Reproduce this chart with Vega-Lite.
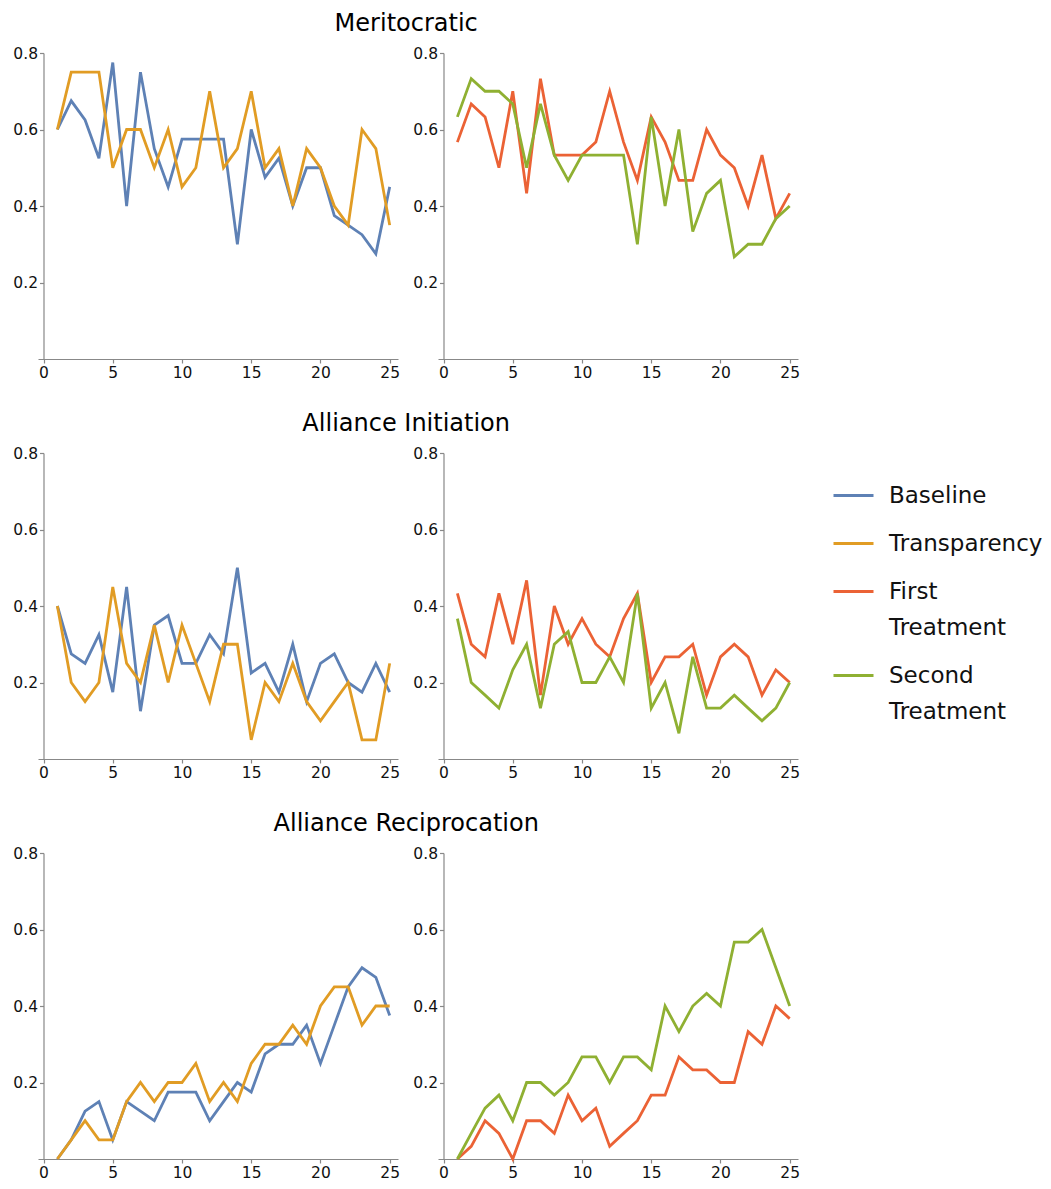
{
  "$schema": "https://vega.github.io/schema/vega-lite/v6.json",
  "padding": {"left": 12, "top": 12, "right": 5, "bottom": 5},
  "data": {"values": [
    {"cat":"M","round":1,"Baseline":0.6,"Transparency":0.6,"First Treatment":0.567,"Second Treatment":0.633},
    {"cat":"M","round":2,"Baseline":0.675,"Transparency":0.75,"First Treatment":0.667,"Second Treatment":0.733},
    {"cat":"M","round":3,"Baseline":0.625,"Transparency":0.75,"First Treatment":0.633,"Second Treatment":0.7},
    {"cat":"M","round":4,"Baseline":0.525,"Transparency":0.75,"First Treatment":0.5,"Second Treatment":0.7},
    {"cat":"M","round":5,"Baseline":0.775,"Transparency":0.5,"First Treatment":0.7,"Second Treatment":0.667},
    {"cat":"M","round":6,"Baseline":0.4,"Transparency":0.6,"First Treatment":0.433,"Second Treatment":0.5},
    {"cat":"M","round":7,"Baseline":0.75,"Transparency":0.6,"First Treatment":0.733,"Second Treatment":0.667},
    {"cat":"M","round":8,"Baseline":0.55,"Transparency":0.5,"First Treatment":0.533,"Second Treatment":0.533},
    {"cat":"M","round":9,"Baseline":0.45,"Transparency":0.6,"First Treatment":0.533,"Second Treatment":0.467},
    {"cat":"M","round":10,"Baseline":0.575,"Transparency":0.45,"First Treatment":0.533,"Second Treatment":0.533},
    {"cat":"M","round":11,"Baseline":0.575,"Transparency":0.5,"First Treatment":0.567,"Second Treatment":0.533},
    {"cat":"M","round":12,"Baseline":0.575,"Transparency":0.7,"First Treatment":0.7,"Second Treatment":0.533},
    {"cat":"M","round":13,"Baseline":0.575,"Transparency":0.5,"First Treatment":0.567,"Second Treatment":0.533},
    {"cat":"M","round":14,"Baseline":0.3,"Transparency":0.55,"First Treatment":0.467,"Second Treatment":0.3},
    {"cat":"M","round":15,"Baseline":0.6,"Transparency":0.7,"First Treatment":0.633,"Second Treatment":0.633},
    {"cat":"M","round":16,"Baseline":0.475,"Transparency":0.5,"First Treatment":0.567,"Second Treatment":0.4},
    {"cat":"M","round":17,"Baseline":0.525,"Transparency":0.55,"First Treatment":0.467,"Second Treatment":0.6},
    {"cat":"M","round":18,"Baseline":0.4,"Transparency":0.4,"First Treatment":0.467,"Second Treatment":0.333},
    {"cat":"M","round":19,"Baseline":0.5,"Transparency":0.55,"First Treatment":0.6,"Second Treatment":0.433},
    {"cat":"M","round":20,"Baseline":0.5,"Transparency":0.5,"First Treatment":0.533,"Second Treatment":0.467},
    {"cat":"M","round":21,"Baseline":0.375,"Transparency":0.4,"First Treatment":0.5,"Second Treatment":0.267},
    {"cat":"M","round":22,"Baseline":0.35,"Transparency":0.35,"First Treatment":0.4,"Second Treatment":0.3},
    {"cat":"M","round":23,"Baseline":0.325,"Transparency":0.6,"First Treatment":0.533,"Second Treatment":0.3},
    {"cat":"M","round":24,"Baseline":0.275,"Transparency":0.55,"First Treatment":0.367,"Second Treatment":0.367},
    {"cat":"M","round":25,"Baseline":0.45,"Transparency":0.35,"First Treatment":0.433,"Second Treatment":0.4},
    {"cat":"AI","round":1,"Baseline":0.4,"Transparency":0.4,"First Treatment":0.433,"Second Treatment":0.367},
    {"cat":"AI","round":2,"Baseline":0.275,"Transparency":0.2,"First Treatment":0.3,"Second Treatment":0.2},
    {"cat":"AI","round":3,"Baseline":0.25,"Transparency":0.15,"First Treatment":0.267,"Second Treatment":0.167},
    {"cat":"AI","round":4,"Baseline":0.325,"Transparency":0.2,"First Treatment":0.433,"Second Treatment":0.133},
    {"cat":"AI","round":5,"Baseline":0.175,"Transparency":0.45,"First Treatment":0.3,"Second Treatment":0.233},
    {"cat":"AI","round":6,"Baseline":0.45,"Transparency":0.25,"First Treatment":0.467,"Second Treatment":0.3},
    {"cat":"AI","round":7,"Baseline":0.125,"Transparency":0.2,"First Treatment":0.167,"Second Treatment":0.133},
    {"cat":"AI","round":8,"Baseline":0.35,"Transparency":0.35,"First Treatment":0.4,"Second Treatment":0.3},
    {"cat":"AI","round":9,"Baseline":0.375,"Transparency":0.2,"First Treatment":0.3,"Second Treatment":0.333},
    {"cat":"AI","round":10,"Baseline":0.25,"Transparency":0.35,"First Treatment":0.367,"Second Treatment":0.2},
    {"cat":"AI","round":11,"Baseline":0.25,"Transparency":0.25,"First Treatment":0.3,"Second Treatment":0.2},
    {"cat":"AI","round":12,"Baseline":0.325,"Transparency":0.15,"First Treatment":0.267,"Second Treatment":0.267},
    {"cat":"AI","round":13,"Baseline":0.275,"Transparency":0.3,"First Treatment":0.367,"Second Treatment":0.2},
    {"cat":"AI","round":14,"Baseline":0.5,"Transparency":0.3,"First Treatment":0.433,"Second Treatment":0.433},
    {"cat":"AI","round":15,"Baseline":0.225,"Transparency":0.05,"First Treatment":0.2,"Second Treatment":0.133},
    {"cat":"AI","round":16,"Baseline":0.25,"Transparency":0.2,"First Treatment":0.267,"Second Treatment":0.2},
    {"cat":"AI","round":17,"Baseline":0.175,"Transparency":0.15,"First Treatment":0.267,"Second Treatment":0.067},
    {"cat":"AI","round":18,"Baseline":0.3,"Transparency":0.25,"First Treatment":0.3,"Second Treatment":0.267},
    {"cat":"AI","round":19,"Baseline":0.15,"Transparency":0.15,"First Treatment":0.167,"Second Treatment":0.133},
    {"cat":"AI","round":20,"Baseline":0.25,"Transparency":0.1,"First Treatment":0.267,"Second Treatment":0.133},
    {"cat":"AI","round":21,"Baseline":0.275,"Transparency":0.15,"First Treatment":0.3,"Second Treatment":0.167},
    {"cat":"AI","round":22,"Baseline":0.2,"Transparency":0.2,"First Treatment":0.267,"Second Treatment":0.133},
    {"cat":"AI","round":23,"Baseline":0.175,"Transparency":0.05,"First Treatment":0.167,"Second Treatment":0.1},
    {"cat":"AI","round":24,"Baseline":0.25,"Transparency":0.05,"First Treatment":0.233,"Second Treatment":0.133},
    {"cat":"AI","round":25,"Baseline":0.175,"Transparency":0.25,"First Treatment":0.2,"Second Treatment":0.2},
    {"cat":"AR","round":1,"Baseline":0,"Transparency":0,"First Treatment":0,"Second Treatment":0},
    {"cat":"AR","round":2,"Baseline":0.05,"Transparency":0.05,"First Treatment":0.033,"Second Treatment":0.067},
    {"cat":"AR","round":3,"Baseline":0.125,"Transparency":0.1,"First Treatment":0.1,"Second Treatment":0.133},
    {"cat":"AR","round":4,"Baseline":0.15,"Transparency":0.05,"First Treatment":0.067,"Second Treatment":0.167},
    {"cat":"AR","round":5,"Baseline":0.05,"Transparency":0.05,"First Treatment":0,"Second Treatment":0.1},
    {"cat":"AR","round":6,"Baseline":0.15,"Transparency":0.15,"First Treatment":0.1,"Second Treatment":0.2},
    {"cat":"AR","round":7,"Baseline":0.125,"Transparency":0.2,"First Treatment":0.1,"Second Treatment":0.2},
    {"cat":"AR","round":8,"Baseline":0.1,"Transparency":0.15,"First Treatment":0.067,"Second Treatment":0.167},
    {"cat":"AR","round":9,"Baseline":0.175,"Transparency":0.2,"First Treatment":0.167,"Second Treatment":0.2},
    {"cat":"AR","round":10,"Baseline":0.175,"Transparency":0.2,"First Treatment":0.1,"Second Treatment":0.267},
    {"cat":"AR","round":11,"Baseline":0.175,"Transparency":0.25,"First Treatment":0.133,"Second Treatment":0.267},
    {"cat":"AR","round":12,"Baseline":0.1,"Transparency":0.15,"First Treatment":0.033,"Second Treatment":0.2},
    {"cat":"AR","round":13,"Baseline":0.15,"Transparency":0.2,"First Treatment":0.067,"Second Treatment":0.267},
    {"cat":"AR","round":14,"Baseline":0.2,"Transparency":0.15,"First Treatment":0.1,"Second Treatment":0.267},
    {"cat":"AR","round":15,"Baseline":0.175,"Transparency":0.25,"First Treatment":0.167,"Second Treatment":0.233},
    {"cat":"AR","round":16,"Baseline":0.275,"Transparency":0.3,"First Treatment":0.167,"Second Treatment":0.4},
    {"cat":"AR","round":17,"Baseline":0.3,"Transparency":0.3,"First Treatment":0.267,"Second Treatment":0.333},
    {"cat":"AR","round":18,"Baseline":0.3,"Transparency":0.35,"First Treatment":0.233,"Second Treatment":0.4},
    {"cat":"AR","round":19,"Baseline":0.35,"Transparency":0.3,"First Treatment":0.233,"Second Treatment":0.433},
    {"cat":"AR","round":20,"Baseline":0.25,"Transparency":0.4,"First Treatment":0.2,"Second Treatment":0.4},
    {"cat":"AR","round":21,"Baseline":0.35,"Transparency":0.45,"First Treatment":0.2,"Second Treatment":0.567},
    {"cat":"AR","round":22,"Baseline":0.45,"Transparency":0.45,"First Treatment":0.333,"Second Treatment":0.567},
    {"cat":"AR","round":23,"Baseline":0.5,"Transparency":0.35,"First Treatment":0.3,"Second Treatment":0.6},
    {"cat":"AR","round":24,"Baseline":0.475,"Transparency":0.4,"First Treatment":0.4,"Second Treatment":0.5},
    {"cat":"AR","round":25,"Baseline":0.375,"Transparency":0.4,"First Treatment":0.367,"Second Treatment":0.4}
  ]},
  "transform": [{"fold": ["Baseline", "Transparency", "First Treatment", "Second Treatment"], "as": ["series", "value"]}],
  "spacing": 31,
  "vconcat": [
    {"title": "Meritocratic", "spacing": 12, "hconcat": [
      {"transform": [{"filter": "datum.cat === 'M' && (datum.series === 'Baseline' || datum.series === 'Transparency')"}],
       "width": 360, "height": 306, "mark": {"type": "line", "strokeWidth": 2.8},
       "encoding": {
         "x": {"field": "round", "type": "quantitative", "scale": {"domain": [-0.4, 25.6], "nice": false}, "axis": {"values": [0,5,10,15,20,25], "labelFlush": false}},
         "y": {"field": "value", "type": "quantitative", "scale": {"domain": [0, 0.8], "nice": false}, "axis": {"values": [0.2,0.4,0.6,0.8], "offset": -5.5}},
         "color": {"field": "series", "type": "nominal", "scale": {"domain": ["Baseline","Transparency","First Treatment","Second Treatment"], "range": ["#5E81B5","#E19C24","#EB6235","#8FB032"]},
                   "legend": {"orient": "none", "legendX": 794, "legendY": 421, "title": null, "labelExpr": "datum.label == 'First Treatment' ? ['First', 'Treatment'] : datum.label == 'Second Treatment' ? ['Second', 'Treatment'] : datum.label"}}
       }},
      {"transform": [{"filter": "datum.cat === 'M' && (datum.series === 'First Treatment' || datum.series === 'Second Treatment')"}],
       "width": 360, "height": 306, "mark": {"type": "line", "strokeWidth": 2.8},
       "encoding": {
         "x": {"field": "round", "type": "quantitative", "scale": {"domain": [-0.4, 25.6], "nice": false}, "axis": {"values": [0,5,10,15,20,25], "labelFlush": false}},
         "y": {"field": "value", "type": "quantitative", "scale": {"domain": [0, 0.8], "nice": false}, "axis": {"values": [0.2,0.4,0.6,0.8], "offset": -5.5}},
         "color": {"field": "series", "type": "nominal"}
       }}
    ]},
    {"title": "Alliance Initiation", "spacing": 12, "hconcat": [
      {"transform": [{"filter": "datum.cat === 'AI' && (datum.series === 'Baseline' || datum.series === 'Transparency')"}],
       "width": 360, "height": 306, "mark": {"type": "line", "strokeWidth": 2.8},
       "encoding": {
         "x": {"field": "round", "type": "quantitative", "scale": {"domain": [-0.4, 25.6], "nice": false}, "axis": {"values": [0,5,10,15,20,25], "labelFlush": false}},
         "y": {"field": "value", "type": "quantitative", "scale": {"domain": [0, 0.8], "nice": false}, "axis": {"values": [0.2,0.4,0.6,0.8], "offset": -5.5}},
         "color": {"field": "series", "type": "nominal"}
       }},
      {"transform": [{"filter": "datum.cat === 'AI' && (datum.series === 'First Treatment' || datum.series === 'Second Treatment')"}],
       "width": 360, "height": 306, "mark": {"type": "line", "strokeWidth": 2.8},
       "encoding": {
         "x": {"field": "round", "type": "quantitative", "scale": {"domain": [-0.4, 25.6], "nice": false}, "axis": {"values": [0,5,10,15,20,25], "labelFlush": false}},
         "y": {"field": "value", "type": "quantitative", "scale": {"domain": [0, 0.8], "nice": false}, "axis": {"values": [0.2,0.4,0.6,0.8], "offset": -5.5}},
         "color": {"field": "series", "type": "nominal"}
       }}
    ]},
    {"title": "Alliance Reciprocation", "spacing": 12, "hconcat": [
      {"transform": [{"filter": "datum.cat === 'AR' && (datum.series === 'Baseline' || datum.series === 'Transparency')"}],
       "width": 360, "height": 306, "mark": {"type": "line", "strokeWidth": 2.8},
       "encoding": {
         "x": {"field": "round", "type": "quantitative", "scale": {"domain": [-0.4, 25.6], "nice": false}, "axis": {"values": [0,5,10,15,20,25], "labelFlush": false}},
         "y": {"field": "value", "type": "quantitative", "scale": {"domain": [0, 0.8], "nice": false}, "axis": {"values": [0.2,0.4,0.6,0.8], "offset": -5.5}},
         "color": {"field": "series", "type": "nominal"}
       }},
      {"transform": [{"filter": "datum.cat === 'AR' && (datum.series === 'First Treatment' || datum.series === 'Second Treatment')"}],
       "width": 360, "height": 306, "mark": {"type": "line", "strokeWidth": 2.8},
       "encoding": {
         "x": {"field": "round", "type": "quantitative", "scale": {"domain": [-0.4, 25.6], "nice": false}, "axis": {"values": [0,5,10,15,20,25], "labelFlush": false}},
         "y": {"field": "value", "type": "quantitative", "scale": {"domain": [0, 0.8], "nice": false}, "axis": {"values": [0.2,0.4,0.6,0.8], "offset": -5.5}},
         "color": {"field": "series", "type": "nominal"}
       }}
    ]}
  ],
  "resolve": {"legend": {"color": "shared"}, "scale": {"color": "shared"}},
  "config": {
    "font": "DejaVu Sans",
    "view": {"stroke": null},
    "style": {"guide-label": {"lineHeight": 36, "dy": -11}},
    "axis": {"grid": false, "title": null, "domainColor": "#888888", "tickColor": "#888888", "labelColor": "#111111", "labelFontSize": 15.5, "tickSize": 4, "domainWidth": 1.2, "tickWidth": 1.2},
    "axisX": {"labelPadding": 13},
    "axisY": {"labelPadding": 2, "labelOffset": 11},
    "title": {"fontSize": 24, "fontWeight": "normal", "anchor": "middle", "color": "#000000", "offset": 10},
    "legend": {"symbolType": "stroke", "symbolSize": 1600, "symbolStrokeWidth": 3, "labelFontSize": 23, "labelColor": "#111111", "labelOffset": 14, "rowPadding": 14, "labelLimit": 400, "labelBaseline": "top"}
  }
}
